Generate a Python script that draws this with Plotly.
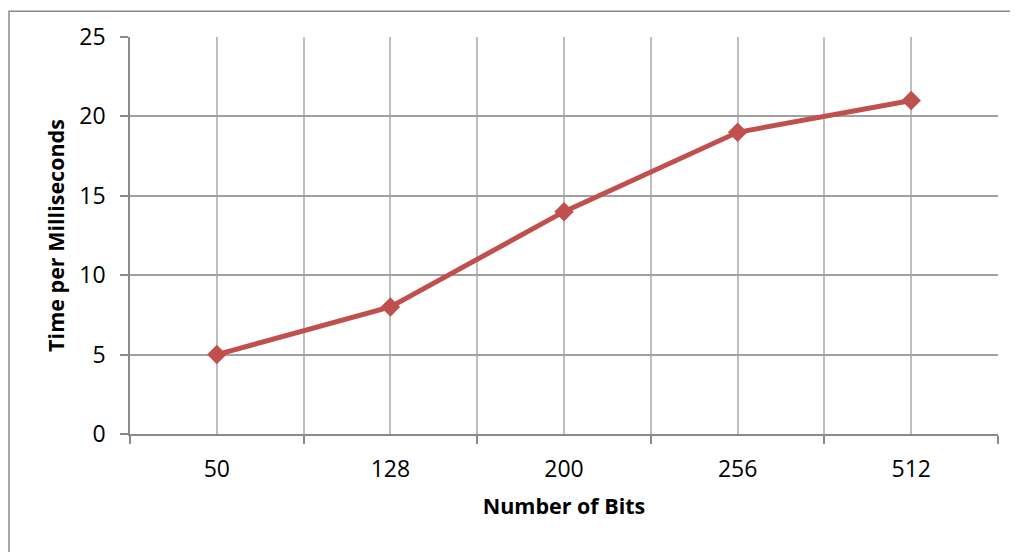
import plotly.graph_objects as go

categories = ["50", "128", "200", "256", "512"]
times_ms = [5, 8, 14, 19, 21]
y_ticks = [0, 5, 10, 15, 20, 25]

x_pos = list(range(len(categories)))
boundaries = [i - 0.5 for i in range(len(categories) + 1)]

FONT = "Open Sans, Lato, sans-serif"
LINE_COLOR = "#C0504D"

# the page shows the figure with an 8px body margin, so the figure is 8px smaller
W, H = 1010, 544
L, R, T, B = 122, 20, 27, 118

fig = go.Figure()
fig.add_trace(go.Scatter(
    x=x_pos, y=times_ms, mode="lines+markers",
    line=dict(color=LINE_COLOR, width=5),
    marker=dict(symbol="diamond", size=15, color=LINE_COLOR),
    showlegend=False, hoverinfo="skip",
))

fig.update_layout(
    width=W, height=H,
    margin=dict(l=L, r=R, t=T, b=B),
    paper_bgcolor="white", plot_bgcolor="white",
    font=dict(family=FONT, size=23, color="black"),
    xaxis=dict(
        range=[-0.5, len(categories) - 0.5],
        tickmode="array", tickvals=x_pos, ticktext=categories,
        ticks="", showgrid=True, gridcolor="#bdbdbd", gridwidth=1.5,
        showline=True, linecolor="#8a8a8a", linewidth=1.5,
        zeroline=False, ticklabelstandoff=14,
        minor=dict(tickmode="array", tickvals=boundaries, ticks="outside",
                   ticklen=8, tickwidth=1.5, tickcolor="#8a8a8a",
                   showgrid=True, gridcolor="#bdbdbd", gridwidth=1.5),
        title=dict(text="<b>Number of Bits</b>", font=dict(size=21.5), standoff=16),
    ),
    yaxis=dict(
        range=[0, 25], tickmode="array", tickvals=y_ticks,
        ticks="outside", ticklen=8, tickwidth=1.5, tickcolor="#8a8a8a",
        showgrid=True, gridcolor="#a0a0a0", gridwidth=1.5,
        showline=True, linecolor="#8a8a8a", linewidth=1.5,
        zeroline=False, ticklabelstandoff=10,
        title=dict(text="<b>Time per Milliseconds</b>", font=dict(size=21.5), standoff=9),
    ),
)

pw, ph = W - L - R, H - T - B
# outer chart-area border (right/bottom sides lie past the window edges)
fig.add_shape(type="rect", xref="paper", yref="paper",
              x0=(1 - L) / pw, x1=1.1, y0=-0.5, y1=(ph + T - 1) / ph,
              line=dict(color="#8a8a8a", width=1.5), fillcolor="rgba(0,0,0,0)",
              layer="below")

fig.write_html("out.html")
